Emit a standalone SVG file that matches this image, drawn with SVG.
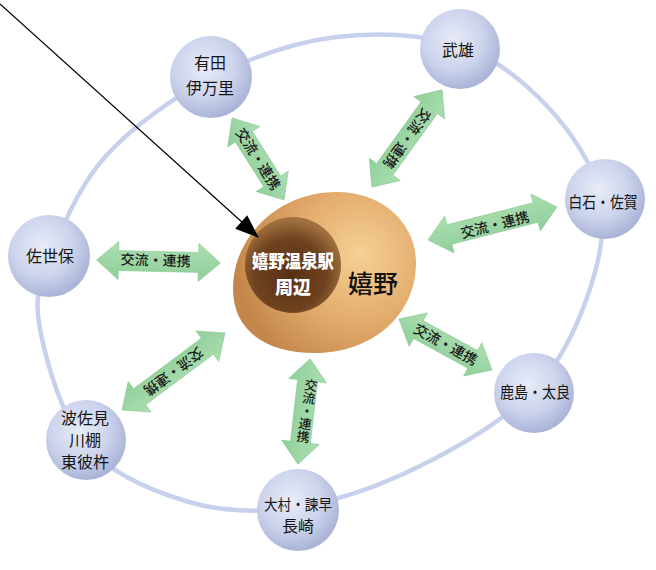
<svg xmlns="http://www.w3.org/2000/svg" width="656" height="570" viewBox="0 0 656 570">
<style>
.ring{fill:none;stroke:#c8d1ec;stroke-width:4.5}
.sph{fill:url(#sg)}
.nl{font-family:"Noto Sans CJK JP","Noto Sans CJK SC",sans-serif;font-size:16px;fill:#151515;text-anchor:middle}
.arr{fill:url(#ag);stroke:#86c792;stroke-width:0.6}
.al{font-family:"Noto Sans CJK JP","Noto Sans CJK SC",sans-serif;font-size:14px;font-weight:500;fill:#1a1a1a;text-anchor:middle}
.av{font-family:"Noto Sans CJK JP","Noto Sans CJK SC",sans-serif;font-size:13px;font-weight:500;fill:#1a1a1a;text-anchor:middle;writing-mode:vertical-rl}
.ctr{font-family:"Noto Sans CJK JP","Noto Sans CJK SC",sans-serif;font-weight:900;fill:#ffffff;text-anchor:middle;font-size:18px}
</style>
<defs>
<radialGradient id="sg" cx="0.42" cy="0.38" r="0.62">
<stop offset="0" stop-color="#e8ecf7"/>
<stop offset="0.6" stop-color="#ccd3ec"/>
<stop offset="1" stop-color="#aab4d7"/>
</radialGradient>
<linearGradient id="ag" x1="0" y1="0" x2="0" y2="1">
<stop offset="0" stop-color="#acdeb0"/>
<stop offset="1" stop-color="#8fcf9a"/>
</linearGradient>
<radialGradient id="og" gradientUnits="userSpaceOnUse" cx="360" cy="255" r="125">
<stop offset="0" stop-color="#f6d095"/>
<stop offset="0.55" stop-color="#e2ab6b"/>
<stop offset="1" stop-color="#c4874b"/>
</radialGradient>
<radialGradient id="ig" gradientUnits="userSpaceOnUse" cx="290" cy="275" r="55">
<stop offset="0" stop-color="#573013"/>
<stop offset="0.65" stop-color="#6f421f"/>
<stop offset="1" stop-color="#a0703e"/>
</radialGradient>
</defs>

<g id="ring">
<path class="ring" d="M211,78 C249.5,58 294.5,42.3 336,37 C377.5,31.7 424.8,34.5 460,46 C495.2,57.5 523.7,81.2 547,106 C570.3,130.8 593,164 600,195 C607,226 600,259.5 589,292 C578,324.5 562.2,361 534,390 C505.8,419 459.3,446.5 420,466 C380.7,485.5 336.5,501 298,507 C259.5,513 224.3,512.3 189,502 C153.7,491.7 110.8,473.8 86,445 C61.2,416.2 46,360.2 40,329 C34,297.8 39.2,286.7 50,258 C60.8,229.3 78.2,187 105,157 C131.8,127 172.5,98 211,78 Z"/>
</g>

<g id="center">
<path d="M233,289 C233,235 280,192 336,192 C385,192 416,225 416,263 C416,315 372,353 315,353 C265,353 233,330 233,289 Z" fill="url(#og)"/>
<circle cx="293" cy="265" r="48" fill="url(#ig)"/>
<text class="ctr"><tspan x="293" y="268" textLength="82" lengthAdjust="spacingAndGlyphs">嬉野温泉駅</tspan><tspan x="293" y="294" textLength="36" lengthAdjust="spacingAndGlyphs">周辺</tspan></text>
<text x="373" y="293" font-family="Noto Sans CJK JP,Noto Sans CJK SC,sans-serif" font-size="25" font-weight="500" fill="#111" text-anchor="middle">嬉野</text>
</g>

<g id="connectors">
<g transform="translate(158.5,261.5) rotate(1.4)">
<polygon class="arr" points="-62,0 -40,-19 -40,-10 40,-10 40,-19 62,0 40,19 40,10 -40,10 -40,19"/>
<text class="al" x="-3" y="4">交流・連携</text>
</g>
<g transform="translate(258,159) rotate(57.6)">
<polygon class="arr" points="-48.5,0 -26.5,-19 -26.5,-10 26.5,-10 26.5,-19 48.5,0 26.5,19 26.5,10 -26.5,10 -26.5,19"/>
<text class="al" x="0" y="5">交流・連携</text>
</g>
<g transform="translate(407,138.5) rotate(125.8)">
<polygon class="arr" points="-60,0 -38,-19 -38,-10 38,-10 38,-19 60,0 38,19 38,10 -38,10 -38,19"/>
<text class="al" x="0" y="5">交流・連携</text>
</g>
<g transform="translate(492.5,223.5) rotate(-14.3)">
<polygon class="arr" points="-66.5,0 -44.5,-19 -44.5,-10 44.5,-10 44.5,-19 66.5,0 44.5,19 44.5,10 -44.5,10 -44.5,19"/>
<text class="al" x="2" y="7">交流・連携</text>
</g>
<g transform="translate(445.5,344.5) rotate(28.7)">
<polygon class="arr" points="-53,0 -31,-19 -31,-10 31,-10 31,-19 53,0 31,19 31,10 -31,10 -31,19"/>
<text class="al" x="0" y="5">交流・連携</text>
</g>
<g transform="translate(304,411.5) rotate(96.6)">
<polygon class="arr" points="-53,0 -31,-19 -31,-10 31,-10 31,-19 53,0 31,19 31,10 -31,10 -31,19"/>
</g>
<text class="av" x="307" y="411" transform="rotate(8.6 307 411)">交流・連携</text>
<g transform="translate(173.5,371.5) rotate(143.2)">
<polygon class="arr" points="-64.3,0 -42.3,-19 -42.3,-10 42.3,-10 42.3,-19 64.3,0 42.3,19 42.3,10 -42.3,10 -42.3,19"/>
<text class="al" x="0" y="5">交流・連携</text>
</g>
<g id="pointer">
<line x1="0" y1="4" x2="243" y2="223" stroke="#000" stroke-width="1.2"/>
<polygon points="259,238 235.2,228.7 247.2,215.3" fill="#000"/>
</g>
</g>

<g id="arita">
<circle class="sph" cx="211" cy="77" r="41"/>
<text class="nl"><tspan x="210" y="69">有田</tspan><tspan x="210" y="94">伊万里</tspan></text>
</g>
<g id="takeo">
<circle class="sph" cx="460" cy="49" r="40"/>
<text class="nl" x="458" y="56" font-size="17">武雄</text>
</g>
<g id="shiroishi">
<circle class="sph" cx="605" cy="199" r="40"/>
<text class="nl" x="603" y="208" font-size="15" textLength="69" lengthAdjust="spacingAndGlyphs">白石・佐賀</text>
</g>
<g id="sasebo">
<circle class="sph" cx="49" cy="256" r="41"/>
<text class="nl" x="50" y="262" font-size="17">佐世保</text>
</g>
<g id="hasami">
<circle class="sph" cx="86" cy="440" r="40"/>
<text class="nl" font-size="15"><tspan x="85" y="424">波佐見</tspan><tspan x="85" y="446">川棚</tspan><tspan x="85" y="468">東彼杵</tspan></text>
</g>
<g id="omura">
<circle class="sph" cx="298" cy="510" r="41"/>
<text class="nl"><tspan x="298" y="510" font-size="15" textLength="68" lengthAdjust="spacingAndGlyphs">大村・諫早</tspan><tspan x="298" y="532">長崎</tspan></text>
</g>
<g id="kashima">
<circle class="sph" cx="534" cy="393" r="40"/>
<text class="nl" x="535" y="398" font-size="15" textLength="70" lengthAdjust="spacingAndGlyphs">鹿島・太良</text>
</g>
</svg>
